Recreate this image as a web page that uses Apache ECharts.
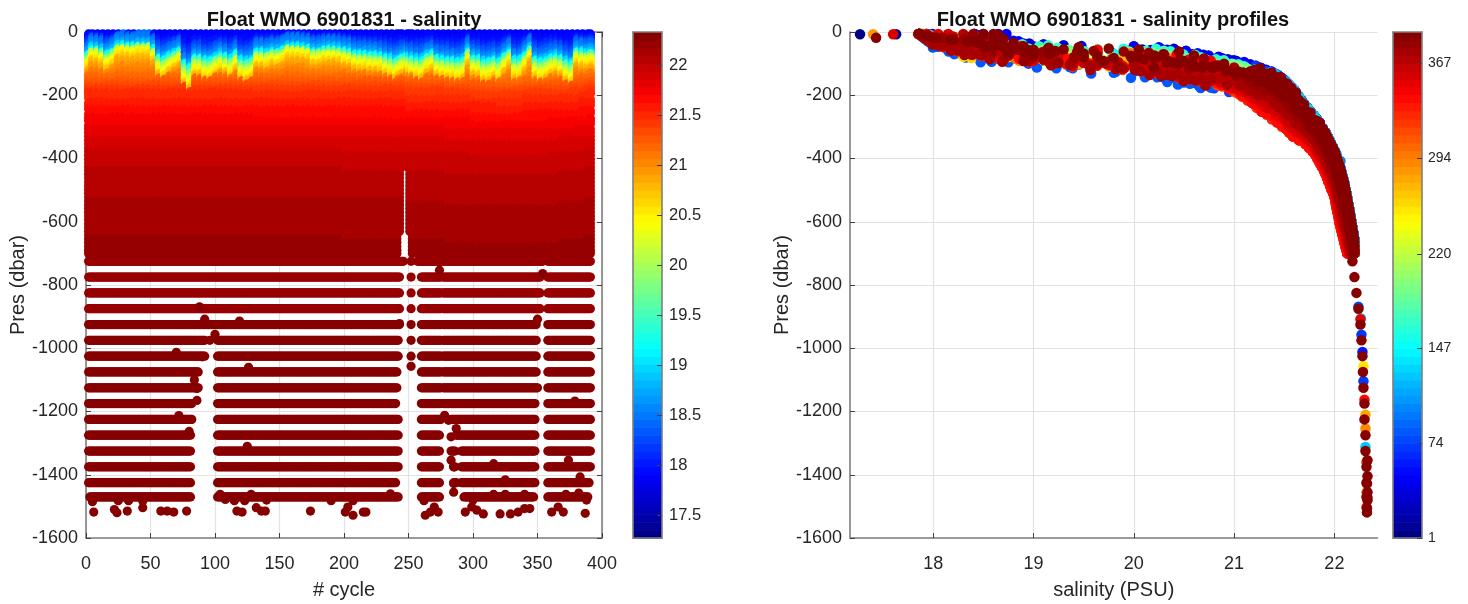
<!DOCTYPE html>
<html>
<head>
<meta charset="utf-8">
<style>html,body{margin:0;padding:0;background:#fff}#c{width:1468px;height:604px}</style>
<script src="https://cdn.jsdelivr.net/npm/echarts@6/dist/echarts.min.js"></script>
</head>
<body>
<div id="c"></div>
<script>
// ---- values ----
const salTicks = [18,19,20,21,22];
const salBarTicks = [17.5,18,18.5,19,19.5,20,20.5,21,21.5,22];
const cycleBarTicks = [1,74,147,220,294,367];
const salRange = [17.27,22.33];
const cycleRange = [1,391];
const salAxisRange = [17.17,22.43];

// one profile every few cycles, with the depth of the yellow (~20.4 PSU) isohaline
const profileCycles = [2,5,9,13,17,21,25,29,33,37,41,45,49,53,57,61,65,69,73,77,81,85,89,93,97,101,105,109,113,117,121,125,129,133,137,141,145,149,153,157,161,165,169,173,177,181,185,189,193,197,201,205,209,213,217,221,225,229,233,237,241,243,245,249,251,253,257,261,265,269,273,277,281,285,289,293,297,301,305,309,313,317,321,325,329,333,337,341,345,349,353,357,361,365,369,373,377,381,385,389,391];
const yellowDepth   = [93,63,66,74,93,80,53,46,51,53,48,47,45,66,109,119,103,91,77,140,156,109,109,124,124,109,98,105,116,93,124,130,122,82,82,87,77,80,72,56,56,56,59,63,77,77,70,66,66,70,77,80,91,93,93,97,98,100,109,117,122,115,109,98,105,114,119,122,103,93,114,119,122,124,130,122,77,112,116,130,130,119,130,103,82,124,124,98,66,119,130,122,109,103,112,130,140,77,82,84,84];
// profiles that stop early around the gap near cycle 247
const shortProfiles = {243:640,245:430,249:430,251:640};

// spread of the deep part of the profile, by block of cycles
const deepBlockStart = [1,130,200,250,280,300,320,340,350,360,369,377,381,385,389,391];
const deepBlockFrac  = [0,0.12,0.2,0.4,0.75,0.95,1,0.85,0.8,0.72,0.62,0.55,0.42,0.28,0.14,0];

// salinity against pressure along the two edges of the profile cloud
const edgeSal   = [17.85,18,18.2,18.4,18.6,18.7,18.85,19,19.2,19.5,19.8,20,20.2,20.4,20.6,20.8,21,21.1,21.2,21.3,21.4,21.5,21.6,21.7,21.8,21.9,22,22.05,22.1,22.15,22.2];
const edgeSalty = [5,5,5,5,25,30,36,40,44,46,47,48,52,60,70,81,94,102,112,124,135,158,190,235,272,312,375,420,480,565,660];
const edgeFresh = [5,43,65,86,97,101,104,107,113,124,132,139,148,160,170,182,196,208,228,252,275,300,335,350,383,440,520,600,665,725,790];

const pressureGrid = [6,12,18,24,30,36,42,48,54,60,66,72,78,84,90,96,102,108,114,120,126,132,138,144,150,156,162,168,174,180,186,192,198,210,222,234,246,258,270,282,294,306,318,330,342,354,366,378,390,402,414,426,438,450,462,474,486,498,510,522,534,546,558,570,582,594,606,618,630,642,654,666,678,690,700];
const pressureWobble = [3,-4,6,-2,-6,4,1,-5,5,-3,7,-1,-7,2,4,-4];

// sparse deep levels: pressure, salinity and the runs of cycles that reach them
const deepLevels = [725,775,825,875,925,975,1025,1075,1125,1175,1225,1275,1325,1375,1425,1470];
const deepSal    = [22.18,22.2,22.22,22.24,22.26,22.27,22.28,22.285,22.29,22.3,22.3,22.31,22.31,22.32,22.32,22.32];
const deepRuns = [
 [[2,246],[252,252],[257,275],[276,354],[358,391]],
 [[2,243],[252,252],[260,275],[277,352],[358,391]],
 [[2,243],[252,252],[260,275],[277,352],[358,391]],
 [[2,243],[252,252],[260,275],[277,352],[358,391]],
 [[2,243],[252,252],[260,275],[277,349],[358,391]],
 [[2,92],[102,242],[252,252],[260,275],[277,349],[358,391]],
 [[2,92],[102,242],[252,252],[260,275],[277,349],[358,391]],
 [[2,87],[102,241],[260,275],[277,349],[358,391]],
 [[2,87],[102,241],[260,275],[277,350],[358,391]],
 [[2,82],[102,240],[260,275],[277,348],[358,391]],
 [[2,82],[102,242],[260,275],[283,348],[358,391]],
 [[2,81],[102,242],[260,274],[287,348],[358,391]],
 [[2,81],[102,242],[260,274],[283,286],[291,348],[358,391]],
 [[2,81],[102,242],[260,274],[285,286],[291,348],[358,391]],
 [[2,81],[102,240],[260,274],[285,287],[291,348],[358,390]],
 [[3,81],[102,242],[260,274],[293,347],[358,389]]
];
// isolated deep samples [cycle, pressure]
const deepStrays = [[6,1518],[22,1510],[24,1520],[32,1515],[44,1504],[58,1515],[63,1515],[68,1518],[78,1515],[117,1515],[121,1518],[132,1504],[136,1515],[139,1515],[174,1515],[201,1518],[203,1502],[207,1528],[215,1518],[217,1518],[263,1528],[267,1518],[270,1502],[273,1518],[294,1518],[299,1502],[303,1512],[308,1524],[321,1524],[329,1524],[335,1518],[340,1507],[344,1507],[361,1518],[366,1502],[370,1518],[387,1522],
 [88,869],[92,908],[119,914],[100,956],[96,975],[70,1013],[90,1027],[84,1100],[86,1127],[86,1165],[126,1060],[72,1213],[80,1263],[125,1310],[243,922],[274,753],[354,764],[350,908],[379,1167],[278,1212],[281,1228],[287,1254],[283,1280],[283,1354],[285,1375],[374,1354],[316,1365],[325,1416],[383,1407],[285,1455],[285,1428],[252,1057],
 [5,1485],[25,1482],[33,1482],[44,1483],[104,1462],[108,1478],[115,1482],[123,1482],[128,1462],[140,1480],[190,1482],[207,1482],[236,1460],[262,1482],[300,1480],[316,1462],[325,1462],[340,1462],[372,1462],[382,1458],[388,1480]];
// samples of the profile plot that stand apart [salinity, pressure, cycle]
const profileStrays = [[17.27,7,3],[17.63,7,10],[17.4,7,285],[17.6,7,360],[17.43,18,385],[17.85,7,300],
 [18.5,6,40],[18.65,6,45],[18.73,6,48],[18.6,10,42],[18.8,28,44],[18.9,36,46],
 [20.5,160,80],[20.65,170,80],[20.8,178,80],[20.95,190,80],[21.05,196,78],[21.15,206,78],[21.2,212,78],
 [18.2,45,30],[18.25,55,12],[18.3,62,8],[18.3,78,255],[18.38,82,258],[18.2,50,135],
 [17.95,28,320],[18.05,38,320],[18.12,46,320],[18.2,40,325],[17.92,18,318],[18.05,25,322],[18.28,44,316],[18.0,14,330],
 [17.93,6,352],[18.05,6,350],[18.15,6,355],[18.3,6,372],[18.4,6,380],[18.5,6,385],[18.6,6,388],[18.65,9,386],
 [18.2,14,362],[18.35,16,378],[18.5,14,382],[18.6,18,386],[18.3,25,372],[18.45,28,380],[18.6,30,387],[18.7,22,388],
 [18.5,40,384],[18.65,40,386],[18.8,35,388],[18.8,50,385],[18.9,45,390],[19.0,56,388],
 [19.15,50,385],[19.3,55,385],[19.45,48,388],[19.6,60,382],[19.75,52,386],[19.9,62,380],[20.05,55,389],[20.15,66,384],[20.3,70,388],[20.45,62,386],[20.6,74,389],[20.7,84,384],
 [18.9,92,383],[19.1,88,376],[19.25,98,383],[19.4,80,379],[19.55,104,375],[19.7,92,386],[19.85,108,382],[20.0,100,376],[20.2,112,386],[20.4,98,381],[20.55,118,384],[20.8,112,372],[21.0,112,378],[21.2,120,390],
 [18.6,60,381],[18.75,72,388],[19.0,76,389],[19.2,70,378],[19.5,78,390],[19.8,82,386],[20.1,86,389],[20.5,92,390],[20.9,100,390],
 [22.06,408,95],[22.02,385,90],[21.96,350,88],
 [22.24,869,80],[22.26,908,350],[22.265,905,130],[22.27,957,70],[22.28,1012,60],[22.29,1057,252],[22.29,1104,70],[22.3,1163,340],[22.31,1210,280],[22.31,1254,288],[22.31,1312,125],[22.32,1360,330],[22.32,1455,290],[22.32,1502,330],
 [22.33,1354,385],[22.33,1405,385],[22.325,1428,385],[22.33,1455,385],[22.33,1472,385],[22.33,1481,385],[22.325,1506,385],[22.325,1519,385]];

// ---- colour map (64 step jet, as the colour bars show) ----
const N_COL = 64;
function jetAt(i){
  const t = (i+0.5)/N_COL, c = v => Math.round(255*Math.max(0,Math.min(1,v)));
  return 'rgb('+c(Math.min(4*t-1.5,-4*t+4.5))+','+c(Math.min(4*t-0.5,-4*t+3.5))+','+c(Math.min(4*t+0.5,-4*t+2.5))+')';
}
const JET = Array.from({length:N_COL},(_,i)=>jetAt(i));
function colorOf(v,range){
  const i = Math.floor((v-range[0])/(range[1]-range[0])*N_COL);
  return JET[Math.max(0,Math.min(N_COL-1,i))];
}

// ---- assemble points ----
function deepFracOf(c){
  let f = deepBlockFrac[0];
  deepBlockStart.forEach((s,i)=>{ if(c>=s) f = deepBlockFrac[i]; });
  return f;
}
function profileCurve(y,fd){
  const fy = Math.max(0,Math.min(1,(y-48)/(156-48)));
  let last = -1;
  return edgeSal.map((s,k)=>{
    const w = Math.max(0,Math.min(1,(s-20.8)/0.4));
    const f = fy*(1-w)+fd*w;
    last = Math.max(last, edgeSalty[k]+f*(edgeFresh[k]-edgeSalty[k]));
    return last;
  });
}
function salAt(curve,p){
  if(p<=curve[0]) { let k=0; while(k+1<curve.length && curve[k+1]<=p) k++; return edgeSal[k]; }
  for(let k=0;k<curve.length-1;k++){
    if(p>=curve[k] && p<=curve[k+1] && curve[k+1]>curve[k]){
      return edgeSal[k]+(p-curve[k])/(curve[k+1]-curve[k])*(edgeSal[k+1]-edgeSal[k]);
    }
  }
  return edgeSal[edgeSal.length-1];
}
const fieldPts = [], profilePts = [];
profileCycles.forEach((c,i)=>{
  const fd = deepFracOf(c);
  const curve = profileCurve(yellowDepth[i],fd);
  const fieldCurve = profileCurve(yellowDepth[i],0.3+fd*0.15);
  const lim = shortProfiles[c] || 700;
  pressureGrid.forEach((p,k)=>{
    if(p>lim) return;
    const w = (p>30 && p<300) ? pressureWobble[(i*5+k)%pressureWobble.length] : 0;
    fieldPts.push([c,-(p+w*0.4),salAt(fieldCurve,p)]);
    profilePts.push([salAt(curve,p),-(p+w),c]);
  });
});
deepLevels.forEach((p,l)=>{
  deepRuns[l].forEach(r=>{ for(let c=r[0];c<=r[1];c++) fieldPts.push([c,-p,deepSal[l]]); });
  profilePts.push([deepSal[l],-p,388]);
});
deepStrays.forEach(d=>fieldPts.push([d[0],-d[1],22.3]));
profileStrays.forEach(d=>profilePts.push([d[0],-d[1],d[2]]));
profilePts.sort((a,b)=>a[2]-b[2]);

function binsOf(range){
  return JET.map((_,i)=>{
    const h=(range[1]-range[0])/N_COL;
    return [range[0]+i*h, range[0]+(i+1)*h, i];
  });
}

// ---- styling ----
const FONT = '"Liberation Sans", Arial, sans-serif';
const INK = '#262626', FRAME = '#7f7f7f', GRID = '#e2e2e2';
const frameLine = {show:true,onZero:false,lineStyle:{color:FRAME,width:1.6}};
const tick = {show:true,inside:true,length:5,lineStyle:{color:'#404040',width:1}};
const noTick = {show:false};
const split = {show:true,lineStyle:{color:GRID,width:1.2}};
const NAME_STYLE = {fontFamily:FONT,fontSize:20,color:INK};
function mainY(grid,nameText){
  return {type:'value',gridIndex:grid,min:-1600,max:0,interval:200,name:nameText,nameLocation:'middle',nameGap:56,
    nameTextStyle:NAME_STYLE,
    axisLine:frameLine,axisTick:tick,splitLine:split,
    axisLabel:{fontFamily:FONT,fontSize:18,color:INK,margin:8,formatter:v=>String(v)}};
}
function barRender(){
  return function(params,api){
    const a=api.coord([0,api.value(1)]), b=api.coord([1,api.value(0)]);
    return {type:'rect',shape:{x:a[0],y:a[1],width:b[0]-a[0],height:b[1]-a[1]+0.6},
      style:{fill:JET[api.value(2)]}};
  };
}
const plainX = (g,pos)=>({type:'value',gridIndex:g,position:pos,min:0,max:1,z:5,axisLine:frameLine,axisTick:noTick,axisLabel:{show:false},splitLine:{show:false}});

const option = {
  animation:false,
  backgroundColor:'#fff',
  title:[
    {text:'Float WMO 6901831 - salinity',left:339,top:5,textAlign:'center',textStyle:{fontFamily:FONT,fontSize:20,fontWeight:'bold',color:'#111'}},
    {text:'Float WMO 6901831 - salinity profiles',left:1108,top:5,textAlign:'center',textStyle:{fontFamily:FONT,fontSize:20,fontWeight:'bold',color:'#111'}}
  ],
  grid:[
    {left:86,top:32,width:516,height:506,outerBoundsMode:'none'},
    {left:850,top:32,width:527.5,height:506,outerBoundsMode:'none'},
    {left:633,top:32,width:29,height:506,outerBoundsMode:'none'},
    {left:1393,top:32,width:29,height:506,outerBoundsMode:'none'}
  ],
  xAxis:[
    {type:'value',gridIndex:0,min:0,max:400,interval:50,name:'# cycle',nameLocation:'middle',nameGap:42,
      nameTextStyle:NAME_STYLE,
      axisLine:frameLine,axisTick:tick,splitLine:split,
      axisLabel:{fontFamily:FONT,fontSize:18,color:INK,margin:17}},
    {type:'value',gridIndex:0,position:'top',min:0,max:400,interval:50,axisLine:frameLine,axisTick:tick,axisLabel:{show:false},splitLine:{show:false}},
    {type:'value',gridIndex:1,min:salAxisRange[0],max:salAxisRange[1],name:'salinity (PSU)',nameLocation:'middle',nameGap:42,
      nameTextStyle:NAME_STYLE,
      axisLine:frameLine,axisTick:Object.assign({},tick,{customValues:salTicks}),splitLine:split,
      axisLabel:{fontFamily:FONT,fontSize:18,color:INK,margin:17,customValues:salTicks,formatter:v=>String(v)}},
    plainX(2,'bottom'),plainX(2,'top'),plainX(3,'bottom'),plainX(3,'top')
  ],
  yAxis:[
    mainY(0,'Pres (dbar)'),
    {type:'value',gridIndex:0,position:'right',min:-1600,max:0,interval:200,axisLine:frameLine,axisTick:tick,axisLabel:{show:false},splitLine:{show:false}},
    mainY(1,'Pres (dbar)'),
    {type:'value',gridIndex:2,position:'right',min:salRange[0],max:salRange[1],z:5,axisLine:frameLine,
      axisTick:Object.assign({},tick,{customValues:salBarTicks}),splitLine:{show:false},
      axisLabel:{fontFamily:FONT,fontSize:16.5,color:INK,margin:7,customValues:salBarTicks,formatter:v=>String(v)}},
    {type:'value',gridIndex:2,position:'left',min:salRange[0],max:salRange[1],z:5,axisLine:frameLine,axisTick:noTick,axisLabel:{show:false},splitLine:{show:false}},
    {type:'value',gridIndex:3,position:'right',min:cycleRange[0],max:cycleRange[1],z:5,axisLine:frameLine,
      axisTick:Object.assign({},tick,{customValues:cycleBarTicks}),splitLine:{show:false},
      axisLabel:{fontFamily:FONT,fontSize:14,color:INK,margin:6,customValues:cycleBarTicks,formatter:v=>String(v)}},
    {type:'value',gridIndex:3,position:'left',min:cycleRange[0],max:cycleRange[1],z:5,axisLine:frameLine,axisTick:noTick,axisLabel:{show:false},splitLine:{show:false}}
  ],
  series:[
    {type:'scatter',xAxisIndex:0,yAxisIndex:0,data:fieldPts,symbolSize:9.2,clip:false,progressive:0,large:false,silent:true,
      itemStyle:{opacity:1,color:p=>colorOf(p.value[2],salRange)}},
    {type:'scatter',xAxisIndex:2,yAxisIndex:2,data:profilePts,symbolSize:10.5,clip:false,progressive:0,large:false,silent:true,
      itemStyle:{opacity:1,color:p=>colorOf(p.value[2],cycleRange)}},
    {type:'custom',xAxisIndex:3,yAxisIndex:3,data:binsOf(salRange),renderItem:barRender(),silent:true,progressive:0},
    {type:'custom',xAxisIndex:5,yAxisIndex:5,data:binsOf(cycleRange),renderItem:barRender(),silent:true,progressive:0}
  ]
};
const chart = echarts.init(document.getElementById('c'),null,{renderer:'canvas'});
chart.setOption(option);
</script>
</body>
</html>
